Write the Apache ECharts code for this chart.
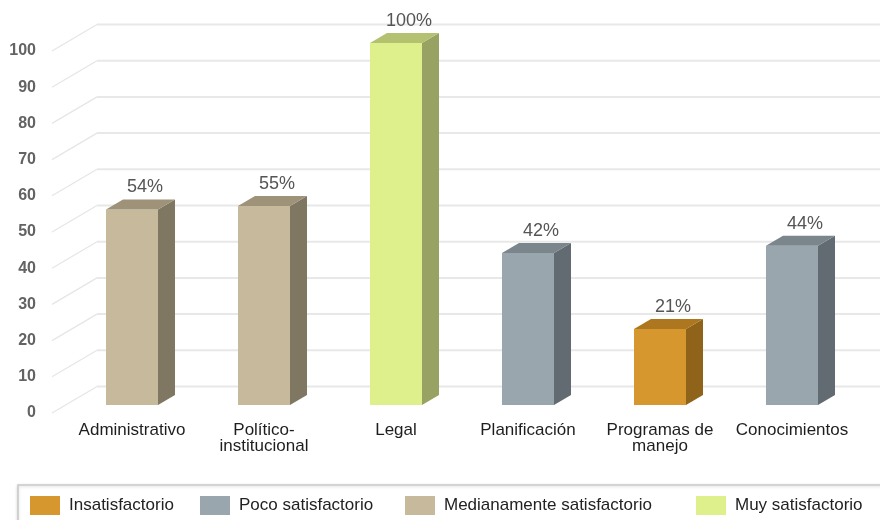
<!DOCTYPE html>
<html>
<head>
<meta charset="utf-8">
<script src="https://cdn.jsdelivr.net/npm/echarts@6/dist/echarts.min.js"></script>
<style>html,body{margin:0;padding:0;background:#fff;}#c{width:880px;height:520px;}</style>
</head>
<body>
<div id="c"></div>
<script>
const categories = ['Administrativo', 'Político-\ninstitucional', 'Legal', 'Planificación', 'Programas de\nmanejo', 'Conocimientos'];
const values = [54, 55, 100, 42, 21, 44];
const ratingOfCategory = ['Medianamente satisfactorio', 'Medianamente satisfactorio', 'Muy satisfactorio', 'Poco satisfactorio', 'Insatisfactorio', 'Poco satisfactorio'];
const ratings = ['Insatisfactorio', 'Poco satisfactorio', 'Medianamente satisfactorio', 'Muy satisfactorio'];
const frontColors = ['#d6982e', '#9aa6ae', '#c7b99b', '#def08c'];
const topColors = ['#ac771f', '#7a858c', '#9e9279', '#b4c170'];
const sideColors = ['#8f631a', '#626b71', '#7f7762', '#98a262'];
const yTicks = [0, 10, 20, 30, 40, 50, 60, 70, 80, 90, 100];
const legendLeft = [30, 200, 405, 696];

const FONT = '"Liberation Sans", Arial, sans-serif';
const DX = 17, DY = 10;

function renderBar(ri) {
  return function (params, api) {
    const ci = api.value(0), v = api.value(1);
    const p0 = api.coord([ci, 0]);
    const p1 = api.coord([ci, v]);
    const band = api.size([1, 0])[0];
    const hw = band * 0.197;
    const cx = p0[0];
    const l = cx - hw, r = cx + hw, yb = p0[1], yt = p1[1];
    return {
      type: 'group',
      children: [
        { type: 'rect', shape: { x: l, y: yt, width: r - l, height: yb - yt }, style: { fill: frontColors[ri] } },
        { type: 'polygon', shape: { points: [[r, yb], [r, yt], [r + DX, yt - DY], [r + DX, yb - DY]] }, style: { fill: sideColors[ri] } },
        { type: 'polygon', shape: { points: [[l, yt], [r, yt], [r + DX, yt - DY], [l + DX, yt - DY]] }, style: { fill: topColors[ri] } },
        { type: 'text', x: cx + 13, y: yt - 22, style: { text: v + '%', fill: '#555', font: '18px ' + FONT, align: 'center', verticalAlign: 'middle' } }
      ]
    };
  };
}

function renderGrid(params, api) {
  const t = api.value(1);
  const y = api.coord([0, t])[1];
  const cs = params.coordSys;
  const x0 = cs.x - 14, x1 = cs.x + 31, x2 = 885;
  const yf = y + 8, yk = y - 18.5;
  return {
    type: 'group',
    children: [
      { type: 'line', shape: { x1: x0, y1: yf, x2: x1, y2: yk }, style: { stroke: '#e6e6e6', lineWidth: 1.3 } },
      { type: 'line', shape: { x1: x1, y1: yk, x2: x2, y2: yk }, style: { stroke: '#e8e8e8', lineWidth: 2 } }
    ]
  };
}

const series = [{
  type: 'custom',
  name: 'grid',
  silent: true,
  z: 1,
  renderItem: renderGrid,
  data: yTicks.map(t => [0, t]),
  encode: { x: 0, y: 1 }
}];
ratings.forEach((name, ri) => {
  const data = [];
  categories.forEach((c, i) => { if (ratingOfCategory[i] === name) data.push([i, values[i]]); });
  series.push({
    type: 'custom',
    name: name,
    z: 2,
    itemStyle: { color: frontColors[ri] },
    renderItem: renderBar(ri),
    data: data,
    encode: { x: 0, y: 1 }
  });
});

const chart = echarts.init(document.getElementById('c'), null, { renderer: 'canvas' });
chart.setOption({
  animation: false,
  backgroundColor: '#fff',
  grid: { left: 66, right: 22, top: 43, bottom: 115 },
  xAxis: {
    type: 'category',
    data: categories,
    axisLine: { show: false },
    axisTick: { show: false },
    axisLabel: { interval: 0, margin: 17, color: '#1e1e1e', fontFamily: FONT, fontSize: 17, lineHeight: 16, verticalAlign: 'top' }
  },
  yAxis: {
    type: 'value',
    min: 0,
    max: 100,
    interval: 10,
    axisLine: { show: false },
    axisTick: { show: false },
    splitLine: { show: false },
    axisLabel: { margin: 30, color: '#636363', fontFamily: FONT, fontSize: 16, fontWeight: 'bold', verticalAlign: 'top', lineHeight: 16 }
  },
  graphic: [{
    type: 'rect',
    z: 0,
    shape: { x: 18, y: 485, width: 900, height: 80 },
    style: { fill: '#fff', stroke: '#c9c9c9', lineWidth: 1.5, shadowBlur: 3, shadowColor: 'rgba(0,0,0,0.15)', shadowOffsetY: 1 }
  }],
  legend: ratings.map((name, i) => ({
    data: [name],
    left: legendLeft[i],
    top: 496,
    icon: 'rect',
    itemWidth: 30,
    itemHeight: 19,
    padding: 0,
    selectedMode: false,
    z: 5,
    textStyle: { color: '#222', fontFamily: FONT, fontSize: 17, padding: [0, 0, 0, 4] }
  })),
  series: series
});
</script>
</body>
</html>
